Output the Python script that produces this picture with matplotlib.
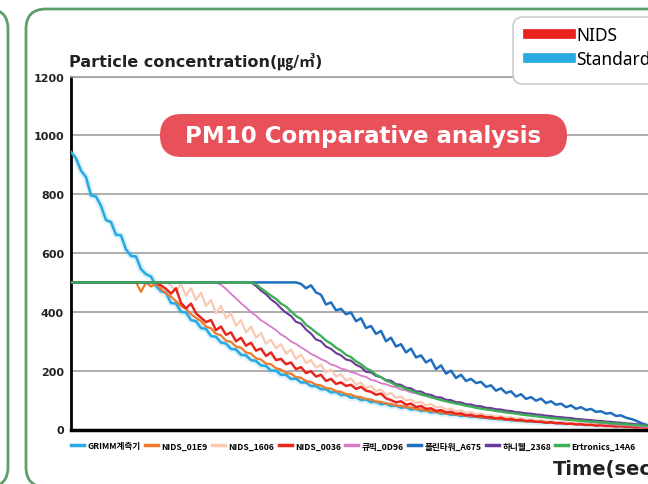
import numpy as np
import matplotlib.pyplot as plt
from matplotlib.lines import Line2D
from matplotlib.patches import FancyBboxPatch

STEP = 5  # seconds between samples

# readings (ug/m3)
grimm = [943, 922, 880, 858, 796, 792, 760, 712, 705, 662, 660, 612, 590, 588, 545,
         528, 520, 488, 470, 465, 430, 428, 400, 398, 372, 368, 345, 342, 318, 315,
         296, 292, 274, 272, 254, 252, 236, 233, 218, 216, 200, 200, 186, 186, 172,
         173, 160, 160, 148, 148, 137, 137, 126, 128, 117, 118, 108, 110, 100, 102,
         93, 94, 86, 88, 80, 81, 74, 76, 68, 70, 63, 65, 58, 60, 54, 55, 50, 51, 46,
         47, 43, 44, 40, 41, 37, 37, 34, 35, 31, 32, 29, 30, 27, 27, 25, 25, 23, 23,
         21, 22, 20, 20, 18, 19, 17, 17, 16, 16, 15, 15, 13, 14, 12, 13, 11, 12, 10]
nids_01e9 = [500] * 14 + [
    468, 500, 486, 496, 478, 462, 452, 436, 420, 410, 392, 380, 368, 350, 344, 326,
    320, 302, 298, 282, 278, 262, 258, 242, 238, 224, 222, 208, 204, 192, 190, 178,
    176, 164, 162, 152, 150, 140, 139, 130, 128, 120, 119, 111, 110, 103, 102, 95,
    94, 88, 87, 81, 81, 75, 75, 69, 69, 64, 64, 59, 59, 54, 55, 50, 51, 46, 47, 43,
    43, 39, 40, 36, 37, 33, 34, 31, 31, 28, 29, 26, 27, 24, 25, 22, 23, 20, 21, 19,
    19, 17, 18, 16, 16, 14, 15, 13, 13, 12, 12, 11, 10, 10, 9]
nids_1606 = [500] * 20 + [
    490, 470, 495, 455, 480, 440, 465, 420, 440, 395, 420, 378, 395, 352, 372, 330,
    350, 312, 328, 292, 305, 276, 290, 258, 272, 240, 255, 226, 236, 210, 220, 194,
    204, 180, 188, 166, 174, 152, 160, 140, 148, 130, 136, 118, 124, 108, 112, 98,
    102, 90, 94, 82, 86, 75, 78, 68, 71, 62, 65, 57, 59, 52, 54, 48, 49, 44, 45, 40,
    41, 36, 38, 33, 34, 30, 31, 27, 28, 25, 25, 23, 23, 21, 21, 19, 19, 17, 17, 15,
    15, 14, 14, 12, 12, 11, 11, 10, 10]
nids_0036 = [500] * 18 + [
    490, 478, 462, 480, 430, 412, 428, 395, 380, 365, 372, 338, 350, 322, 330, 300,
    312, 285, 295, 268, 275, 250, 262, 236, 240, 222, 228, 205, 212, 192, 198, 180,
    186, 165, 172, 155, 160, 148, 152, 138, 145, 132, 128, 118, 122, 106, 100, 92,
    96, 84, 88, 76, 80, 70, 72, 63, 66, 58, 60, 53, 55, 48, 50, 44, 47, 41, 42, 37,
    40, 34, 36, 31, 33, 28, 30, 26, 27, 23, 25, 21, 22, 19, 20, 17, 18, 15, 16, 13,
    14, 12, 12, 10, 11, 9, 9, 7, 8, 6, 7]
cubic_0d96 = [500] * 30 + [
    492, 478, 461, 446, 429, 415, 399, 387, 371, 361, 349, 338, 323, 313, 299, 291,
    279, 269, 257, 249, 239, 232, 221, 216, 207, 203, 195, 191, 183, 179, 169, 165,
    157, 154, 147, 144, 136, 133, 126, 123, 117, 115, 109, 107, 101, 99, 94, 92, 87,
    85, 80, 79, 74, 73, 69, 68, 63, 62, 58, 57, 53, 52, 48, 48, 44, 44, 40, 40, 36,
    36, 32, 32, 28, 28, 25, 24, 21, 20, 18, 17, 15, 14, 13, 12, 10, 9, 8]
flint_a675 = [500] * 46 + [
    495, 480, 490, 466, 458, 425, 432, 405, 410, 392, 398, 368, 378, 345, 352, 325,
    335, 300, 312, 282, 290, 262, 275, 245, 252, 228, 238, 205, 218, 190, 200, 175,
    186, 165, 172, 158, 162, 145, 150, 132, 140, 124, 130, 112, 120, 104, 110, 98,
    105, 90, 96, 84, 88, 76, 82, 70, 76, 66, 70, 60, 62, 54, 56, 46, 48, 40, 36, 30,
    22, 16, 12]
honey_2368 = [500] * 37 + [
    488, 472, 460, 442, 430, 412, 397, 386, 366, 360, 340, 326, 306, 300, 282, 274,
    260, 252, 238, 234, 220, 212, 196, 194, 182, 178, 168, 166, 154, 152, 142, 140,
    130, 129, 120, 118, 110, 109, 101, 100, 93, 92, 86, 85, 80, 79, 74, 73, 69, 68,
    64, 63, 59, 58, 55, 54, 51, 50, 47, 46, 43, 42, 40, 39, 36, 35, 33, 32, 30, 29,
    27, 26, 24, 23, 21, 20, 18, 17, 15, 14]
ertronics_14a6 = [500] * 37 + [
    494, 480, 468, 455, 444, 428, 418, 402, 386, 376, 356, 344, 330, 318, 302, 292,
    278, 268, 254, 246, 232, 222, 208, 200, 186, 178, 166, 160, 150, 146, 138, 132,
    126, 120, 115, 110, 105, 100, 96, 92, 88, 85, 81, 78, 74, 71, 68, 66, 63, 61,
    58, 56, 54, 51, 49, 47, 45, 43, 41, 39, 38, 36, 34, 33, 31, 30, 28, 27, 26, 24,
    23, 21, 20, 19, 18, 16, 15, 14, 13, 12]

series = [grimm, nids_01e9, nids_1606, nids_0036, cubic_0d96, flint_a675, honey_2368, ertronics_14a6]
labels = ['GRIMM계측기', 'NIDS_01E9', 'NIDS_1606', 'NIDS_0036', '큐빅_0D96',
          '플린타워_A675', '하니웰_2368', 'Ertronics_14A6']
colors = ['#29abe2', '#f07a2a', '#f9c9b4', '#e8261e', '#d77ac8', '#1f6fbe', '#6b3a96', '#3daf55']
widths = [1.9, 1.6, 1.6, 1.8, 1.3, 1.8, 1.5, 1.7]
y_ticks = [0, 200, 400, 600, 800, 1000, 1200]
key_names = ['NIDS', 'Standard']
key_colors = ['#e8231f', '#29abe2']

W, H = 648, 485
fig = plt.figure(figsize=(W / 100, H / 100), dpi=100)
ax = fig.add_axes([71 / W, 54.5 / H, 600 / W, 353 / H])


def inch(x, y):
    # picture pixels (top-left origin) -> inches for dpi_scale_trans
    return x / 100, (H - y) / 100


# green panel frames
for x0, x1 in [(-300, 8), (26, 900)]:
    fig.patches.append(FancyBboxPatch(inch(x0, 488), (x1 - x0) / 100, 4.78,
                                      boxstyle='round,pad=0,rounding_size=0.2',
                                      transform=fig.dpi_scale_trans, fill=False,
                                      ec='#5e9e68', lw=2))

# the curves
ax.plot(np.arange(len(grimm)) * STEP, grimm, color=colors[0], lw=5, alpha=0.15, zorder=2)
for i, vals in enumerate(series):
    t = np.arange(len(vals)) * STEP
    ax.plot(t, vals, color=colors[i], lw=widths[i], zorder=3 + i, solid_joinstyle='round')

ax.set_xlim(0, 600)
ax.set_ylim(0, 1200)
ax.set_xticks([])
ax.set_yticks(y_ticks)
ax.grid(axis='y', color='#a0a0a0', lw=1.2)
ax.set_axisbelow(True)
ax.spines['right'].set_visible(False)
ax.spines['top'].set_color('#a0a0a0')
ax.spines['top'].set_linewidth(1.2)
ax.spines['left'].set_linewidth(2)
ax.spines['bottom'].set_linewidth(2.5)
ax.tick_params(axis='y', length=0, pad=5, labelsize=8)
for lab in ax.get_yticklabels():
    lab.set_fontweight('bold')
    lab.set_color('#222222')

fig.text(69 / W, 1 - 61 / H, 'Particle concentration(㎍/㎥)', fontsize=11.5,
         fontweight='bold', family=['DejaVu Sans', 'Noto Sans CJK KR'],
         va='center', ha='left', color='#222222')
fig.text(553 / W, 1 - 470 / H, 'Time(sec)', fontsize=14, fontweight='bold',
         va='center', ha='left', color='#222222')

# title pill
fig.patches.append(FancyBboxPatch(inch(160, 158), 4.07, 0.43,
                                  boxstyle='round,pad=0,rounding_size=0.215',
                                  transform=fig.dpi_scale_trans, fc='#e8505a', ec='none'))
fig.text(*inch(363, 137), 'PM10 Comparative analysis', transform=fig.dpi_scale_trans,
         fontsize=16.5, fontweight='bold', color='white', ha='center', va='center')

# NIDS / Standard key: rounded box running off the right edge
fig.patches.append(FancyBboxPatch(inch(513, 85), 2.2, 0.67,
                                  boxstyle='round,pad=0,rounding_size=0.1',
                                  transform=fig.dpi_scale_trans, fc='white',
                                  ec='#cccccc', lw=1.2, zorder=4))
key = fig.legend([Line2D([], [], color=c, lw=7) for c in key_colors], key_names,
                 loc='upper left', bbox_to_anchor=(528 / W, 1 - 27 / H),
                 prop={'family': 'Noto Sans', 'size': 12.5}, handlelength=2.5,
                 handletextpad=0.3, borderpad=0, labelspacing=0.35,
                 borderaxespad=0, frameon=False)
key.set_zorder(5)

# series legend under the axis
fig.legend([Line2D([], [], color=c, lw=2.5) for c in colors], labels, ncol=8,
           loc='center left', bbox_to_anchor=(68 / W, 1 - 447 / H), frameon=False,
           prop={'family': 'Noto Sans CJK KR', 'weight': 'bold', 'size': 6.2},
           handlelength=1.5, handletextpad=0.4, columnspacing=0.5, borderaxespad=0)

fig.savefig('out.png', dpi=100)
